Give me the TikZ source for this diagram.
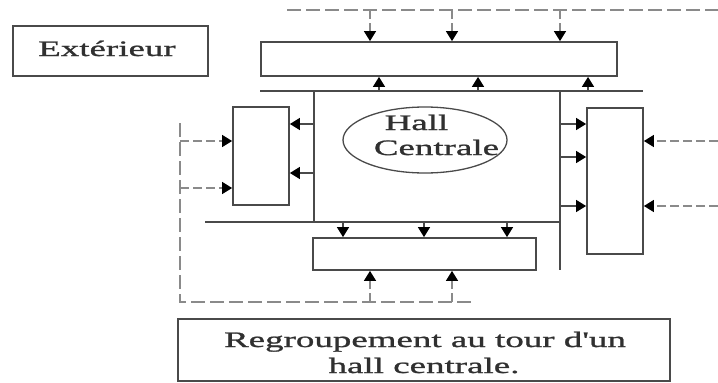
\documentclass[tikz,border=0pt]{standalone}
\usepackage{fontspec}
\newfontfamily\wideserif[FakeStretch=1.68,FakeBold=1.2]{Liberation Serif}
\usetikzlibrary{arrows.meta,shapes.geometric}
\definecolor{ink}{HTML}{4A4A4A}
\definecolor{dashink}{HTML}{8A8A8A}
\definecolor{txtink}{HTML}{303030}
\tikzset{
  boxshape/.style={draw=ink, line width=1.8pt, rectangle, inner sep=0pt},
  wall/.style={draw=ink, line width=1.8pt},
  dline/.style={draw=dashink, line width=1.6pt, dash pattern=on 14pt off 5pt},
  sarr/.style={draw=ink, line width=1.5pt, -{Triangle[length=10pt,width=12pt,black]}},
  darr/.style={draw=dashink, line width=1.4pt, dash pattern=on 9pt off 4pt, -{Triangle[length=10pt,width=12pt,black]}},
  txt/.style={font=\wideserif\fontsize{22}{25}\selectfont, text=txtink, inner sep=0pt, anchor=base}
}
\begin{document}
\begin{tikzpicture}[x=1pt,y=-1pt]
\useasboundingbox (0,0) rectangle (718,383);
% boxes
\node[boxshape, minimum width=195pt, minimum height=50pt] (extbox) at (110.5,51) {};
\node[txt] (exttxt) at (107,56) {Extérieur};
\node[boxshape, minimum width=356pt, minimum height=34pt] (topbox) at (439,59) {};
\node[boxshape, minimum width=56pt, minimum height=98pt] (leftbox) at (261,156) {};
\node[boxshape, minimum width=56pt, minimum height=146pt] (rightbox) at (615,181) {};
\node[boxshape, minimum width=223pt, minimum height=32pt] (botbox) at (424.5,254) {};
\node[boxshape, minimum width=492pt, minimum height=62pt] (capbox) at (424,350) {};
\node[txt] (cap1) at (425,347) {Regroupement au tour d'un};
\node[txt] (cap2) at (424,373) {hall centrale.};
% hall
\node[draw=ink, line width=1.3pt, ellipse, minimum width=164pt, minimum height=66pt, inner sep=0pt] (hallell) at (425,140) {};
\node[txt] (hall1) at (416.5,130) {Hall};
\node[txt] (hall2) at (436.5,155) {Centrale};
% hall walls
\coordinate (hTL) at (260,91);
\coordinate (hTR) at (643,91);
\coordinate (hL1) at (314,91);
\coordinate (hL2) at (314,222);
\coordinate (hB1) at (205,222);
\coordinate (hB2) at (560,222);
\coordinate (hR1) at (560,91);
\coordinate (hR2) at (560,270);
\draw[wall] (hTL) -- (hTR);
\draw[wall] (hL1) -- (hL2);
\draw[wall] (hB1) -- (hB2);
\draw[wall] (hR1) -- (hR2);
% exterior dashed lines
\coordinate (td1) at (287,10);
\coordinate (td2) at (718,10);
\coordinate (ld1) at (180,123);
\coordinate (ld2) at (180,302);
\coordinate (bd2) at (472,302);
\coordinate (rd1) at (718,141);
\draw[dline] (td1) -- (td2);
\draw[dline] (ld1) -- (ld2) -- (bd2);
% arrows from exterior
\foreach \x in {370,452,560} \draw[darr] (td1 -| \x,0) -- (topbox.north -| \x,0);
\foreach \y in {141,188} \draw[darr] (ld1 |- 0,\y) -- (leftbox.west |- 0,\y);
\foreach \x in {370,452} \draw[darr] (ld2 -| \x,0) -- (botbox.south -| \x,0);
\foreach \y in {141,206} \draw[darr] (rd1 |- 0,\y) -- (rightbox.east |- 0,\y);
% arrows from hall
\foreach \x in {379,478,588} \draw[sarr] (hTL -| \x,0) -- (topbox.south -| \x,0);
\foreach \y in {124,173} \draw[sarr] (hL1 |- 0,\y) -- (leftbox.east |- 0,\y);
\foreach \x in {343,424,507} \draw[sarr] (hB1 -| \x,0) -- (botbox.north -| \x,0);
\foreach \y in {124,157,206} \draw[sarr] (hR1 |- 0,\y) -- (rightbox.west |- 0,\y);
\end{tikzpicture}
\end{document}
